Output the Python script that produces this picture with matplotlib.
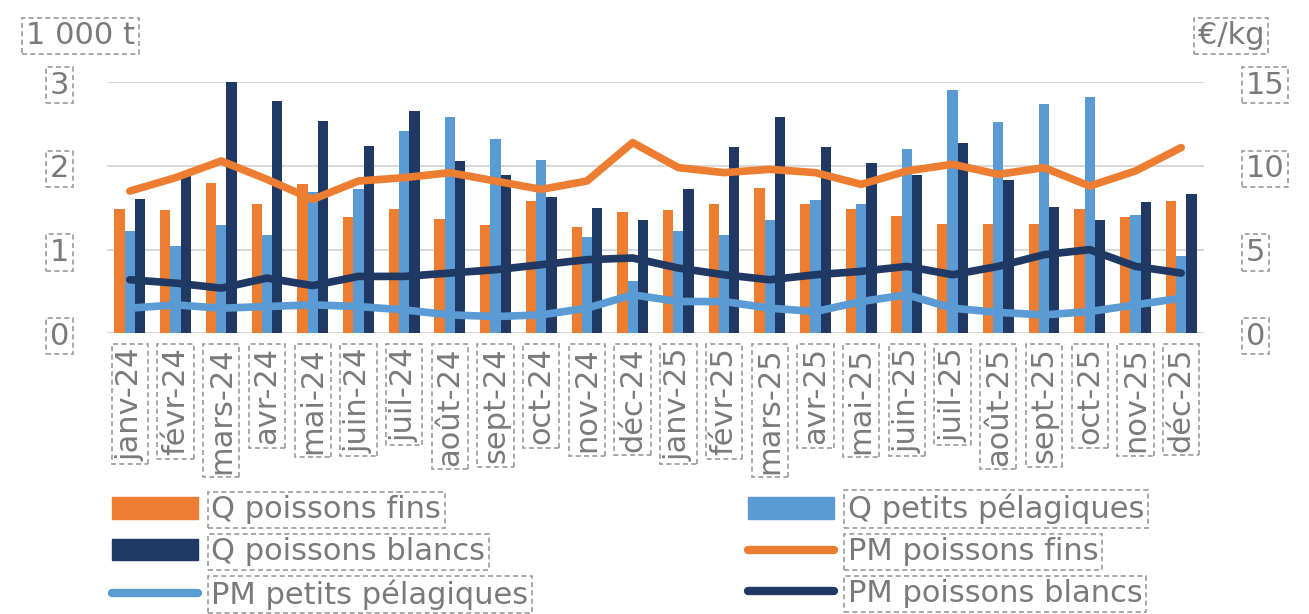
import matplotlib
matplotlib.use('Agg')
import matplotlib.pyplot as plt
import numpy as np
from matplotlib.patches import Patch
from matplotlib.lines import Line2D

mois = ['janv-24', 'févr-24', 'mars-24', 'avr-24', 'mai-24', 'juin-24',
        'juil-24', 'août-24', 'sept-24', 'oct-24', 'nov-24', 'déc-24',
        'janv-25', 'févr-25', 'mars-25', 'avr-25', 'mai-25', 'juin-25',
        'juil-25', 'août-25', 'sept-25', 'oct-25', 'nov-25', 'déc-25']

# quantites (1 000 t)
q_fins = [1.49, 1.47, 1.80, 1.55, 1.79, 1.39, 1.49, 1.37, 1.30, 1.58, 1.27, 1.45,
          1.47, 1.55, 1.74, 1.55, 1.49, 1.40, 1.31, 1.31, 1.31, 1.49, 1.39, 1.58]
q_pelagiques = [1.22, 1.04, 1.29, 1.18, 1.69, 1.73, 2.42, 2.58, 2.32, 2.07, 1.15, 0.63,
                1.22, 1.18, 1.36, 1.59, 1.54, 2.20, 2.91, 2.52, 2.74, 2.83, 1.41, 0.92]
q_blancs = [1.61, 1.93, 3.00, 2.78, 2.54, 2.24, 2.66, 2.06, 1.89, 1.63, 1.50, 1.35,
            1.72, 2.23, 2.58, 2.23, 2.03, 1.89, 2.27, 1.83, 1.51, 1.35, 1.57, 1.67]

# prix moyens (EUR/kg)
pm_fins = [8.5, 9.3, 10.3, 9.2, 8.0, 9.1, 9.3, 9.6, 9.1, 8.6, 9.1, 11.4,
           9.9, 9.6, 9.8, 9.6, 8.9, 9.7, 10.1, 9.5, 9.9, 8.8, 9.7, 11.1]
pm_pelagiques = [1.5, 1.7, 1.5, 1.6, 1.7, 1.6, 1.4, 1.1, 1.0, 1.1, 1.5, 2.3,
                 1.9, 1.9, 1.5, 1.3, 1.9, 2.3, 1.5, 1.25, 1.1, 1.3, 1.7, 2.1]
pm_blancs = [3.2, 3.0, 2.7, 3.3, 2.85, 3.4, 3.4, 3.6, 3.8, 4.1, 4.4, 4.5,
             3.9, 3.5, 3.2, 3.5, 3.7, 4.0, 3.5, 4.0, 4.7, 5.0, 4.0, 3.6]

ORANGE = '#ED7D31'
BLEU = '#5B9BD5'
MARINE = '#1F3864'
GRIS = '#7a7a7a'
FS = 22

plt.rcParams['font.family'] = ['DejaVu Sans']

def boite(t, pad=0.12):
  t.set_bbox(dict(boxstyle='square,pad=%s' % pad, fc='none', ec='#9a9a9a',
                  ls=(0, (3, 2)), lw=1.2))

fig = plt.figure(figsize=(13.09, 6.14), dpi=100)
ax = fig.add_axes([107/1309, 1-333.3/614, 1097/1309, 251/614])
ax2 = ax.twinx()

x = np.arange(len(mois))
w = 0.225
ax.bar(x - w, q_fins, w, color=ORANGE, zorder=2)
ax.bar(x, q_pelagiques, w, color=BLEU, zorder=2)
ax.bar(x + w, q_blancs, w, color=MARINE, zorder=2)

ax2.plot(x, pm_fins, color=ORANGE, lw=5.5, solid_capstyle='round', solid_joinstyle='round')
ax2.plot(x, pm_pelagiques, color=BLEU, lw=5.5, solid_capstyle='round', solid_joinstyle='round')
ax2.plot(x, pm_blancs, color=MARINE, lw=5.5, solid_capstyle='round', solid_joinstyle='round')

ax.set_xlim(-0.5, 23.5)
ax.set_ylim(0, 3)
ax2.set_ylim(0, 15)
ax.set_yticks([0, 1, 2, 3])
ax2.set_yticks([0, 5, 10, 15])
ax.grid(axis='y', color='#d9d9d9', lw=1.5, zorder=0)
ax.set_axisbelow(True)
for a in (ax, ax2):
  for s in a.spines.values():
    s.set_visible(False)

ax.set_xticks(x)
ax.set_xticklabels(mois, rotation=90, fontsize=FS, color=GRIS)
ax.tick_params(axis='x', length=0, pad=10)
ax.tick_params(axis='y', length=0, pad=27, labelsize=FS, labelcolor=GRIS)
ax2.tick_params(axis='y', length=0, pad=30, labelsize=FS, labelcolor=GRIS)
for t in ax.get_xticklabels() + ax.get_yticklabels() + ax2.get_yticklabels():
  boite(t)

t1 = fig.text(26/1309, 1-36/614, '1 000 t', fontsize=FS, color=GRIS, va='center', ha='left')
t2 = fig.text(1198/1309, 1-36/614, '€/kg', fontsize=FS, color=GRIS, va='center', ha='left')
boite(t1)
boite(t2)

handles = [Patch(color=ORANGE), Patch(color=MARINE),
           Line2D([], [], color=BLEU, lw=6, solid_capstyle='round'),
           Patch(color=BLEU),
           Line2D([], [], color=ORANGE, lw=6, solid_capstyle='round'),
           Line2D([], [], color=MARINE, lw=6, solid_capstyle='round')]
labels = ['Q poissons fins', 'Q poissons blancs', 'PM petits pélagiques',
          'Q petits pélagiques', 'PM poissons fins', 'PM poissons blancs']
leg = fig.legend(handles, labels, loc='upper left', bbox_to_anchor=(112/1309, 1-494/614),
                 ncol=2, frameon=False, fontsize=FS, handlelength=2.8, handleheight=0.7,
                 handletextpad=0.45, columnspacing=7.2, labelspacing=0.42,
                 borderaxespad=0, borderpad=0)
for t in leg.get_texts():
  t.set_color(GRIS)
  boite(t)

fig.savefig('out.png', dpi=100)
